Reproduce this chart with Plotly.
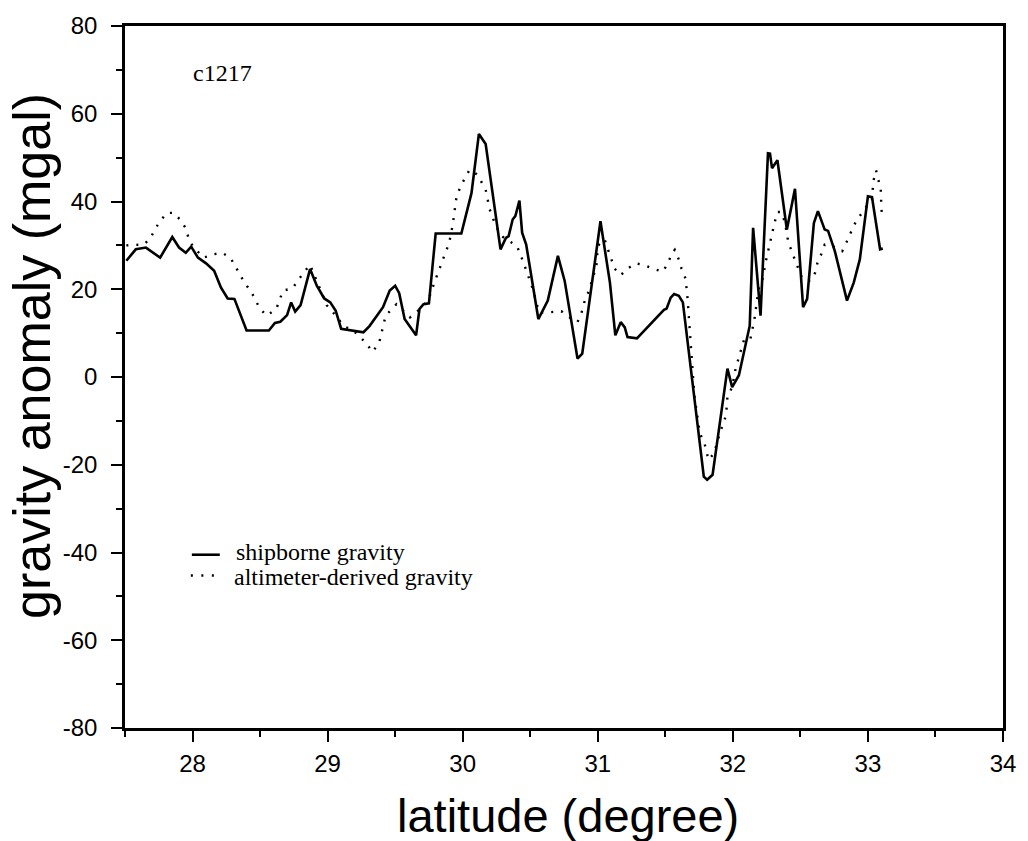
import plotly.graph_objects as go

# Shipborne gravity profile along track c1217
ship_lat = [27.51, 27.58, 27.655, 27.76, 27.85, 27.90, 27.95, 27.99, 28.04, 28.10,
            28.16, 28.21, 28.26, 28.31, 28.40, 28.565, 28.61, 28.65, 28.70, 28.73,
            28.76, 28.80, 28.87, 28.92, 28.975, 29.02, 29.06, 29.10, 29.265, 29.31,
            29.41, 29.46, 29.50, 29.53, 29.57, 29.655, 29.68, 29.71, 29.75, 29.80,
            29.99, 30.065, 30.12, 30.17, 30.28, 30.32, 30.34, 30.37, 30.39, 30.42,
            30.44, 30.47, 30.56, 30.63, 30.705, 30.755, 30.85, 30.885, 31.02, 31.09,
            31.13, 31.17, 31.20, 31.22, 31.29, 31.49, 31.51, 31.54, 31.565, 31.60,
            31.63, 31.785, 31.81, 31.85, 31.96, 31.995, 32.045, 32.125, 32.15, 32.19,
            32.205, 32.26, 32.275, 32.29, 32.33, 32.40, 32.46, 32.52, 32.55, 32.60,
            32.63, 32.68, 32.705, 32.755, 32.845, 32.895, 32.94, 33.00, 33.03, 33.09,
            33.11]
ship_val = [26.5, 29.1, 29.5, 27.2, 31.9, 29.5, 28.3, 29.7, 27.2, 25.9,
            24.2, 20.4, 17.9, 17.8, 10.6, 10.6, 12.3, 12.6, 14.1, 17.0,
            14.9, 16.4, 24.6, 20.8, 17.9, 17.0, 15.1, 11.0, 10.2, 11.6,
            15.9, 19.7, 20.8, 19.1, 13.2, 9.5, 15.5, 16.6, 16.8, 32.7,
            32.7, 41.9, 55.4, 53.1, 29.1, 31.7, 32.1, 35.9, 36.7, 40.2,
            32.9, 30.2, 13.2, 17.4, 27.6, 21.9, 4.2, 5.3, 35.5, 21.5,
            9.5, 12.5, 11.3, 9.1, 8.8, 15.3, 15.6, 18.1, 18.9, 18.5,
            17.0, -22.7, -23.4, -22.3, 1.9, -2.3, 0.4, 11.7, 34.0, 18.1,
            14.0, 51.0, 50.9, 47.6, 49.4, 33.6, 42.9, 15.9, 17.8, 35.1,
            37.8, 33.6, 33.3, 28.7, 17.4, 21.5, 26.8, 41.2, 41.0, 29.1,
            29.3]

# Altimeter-derived gravity sampled along the same track
alt_lat = [27.51, 27.64, 27.69, 27.72, 27.76, 27.81, 27.86, 27.91, 27.95, 27.97,
           28.00, 28.08, 28.16, 28.22, 28.28, 28.32, 28.385, 28.435, 28.50, 28.55,
           28.62, 28.67, 28.74, 28.82, 28.87, 28.92, 28.995, 29.06, 29.12, 29.19,
           29.29, 29.33, 29.38, 29.43, 29.51, 29.575, 29.61, 29.70, 29.75, 29.79,
           29.845, 29.90, 29.925, 29.955, 29.985, 30.05, 30.11, 30.17, 30.20, 30.245,
           30.29, 30.34, 30.40, 30.45, 30.52, 30.565, 30.62, 30.73, 30.79, 30.85,
           30.88, 30.90, 30.93, 30.95, 30.99, 31.00, 31.05, 31.075, 31.10, 31.125,
           31.17, 31.22, 31.28, 31.345, 31.41, 31.48, 31.52, 31.545, 31.57, 31.60,
           31.62, 31.65, 31.665, 31.68, 31.70, 31.715, 31.755, 31.79, 31.82, 31.86,
           31.90, 31.95, 31.96, 31.995, 32.02, 32.06, 32.085, 32.13, 32.16, 32.19,
           32.22, 32.245, 32.275, 32.29, 32.31, 32.33, 32.36, 32.385, 32.41, 32.44,
           32.46, 32.48, 32.51, 32.545, 32.575, 32.61, 32.63, 32.655, 32.68, 32.735,
           32.81, 32.84, 32.87, 32.90, 32.94, 32.975, 33.03, 33.04, 33.06, 33.08,
           33.095, 33.10, 33.11]
alt_val = [30.0, 30.2, 31.7, 33.6, 35.5, 37.4, 37.4, 35.8, 33.9, 31.7,
           29.9, 27.2, 28.0, 28.3, 27.2, 24.9, 21.5, 19.4, 15.5, 14.0,
           15.5, 19.7, 20.2, 23.7, 25.6, 21.9, 16.3, 14.0, 11.6, 10.6,
           7.6, 5.7, 7.6, 14.0, 16.6, 14.7, 13.6, 15.9, 17.9, 21.5,
           26.1, 30.6, 34.5, 41.2, 43.5, 47.2, 46.1, 42.7, 38.2, 34.4,
           32.1, 31.0, 30.0, 26.1, 20.0, 14.7, 14.7, 15.0, 13.6, 12.5,
           14.7, 17.0, 19.3, 21.2, 25.3, 29.9, 31.4, 29.1, 26.8, 24.7,
           23.2, 24.7, 25.9, 25.5, 24.7, 24.0, 25.9, 28.0, 29.0, 26.8,
           24.7, 22.4, 17.8, 11.3, 4.5, -4.2, -12.8, -15.1, -18.9, -17.4,
           -13.2, -8.7, -4.5, -2.3, 1.9, 6.0, 8.7, 8.7, 13.2, 20.0,
           22.3, 26.5, 30.8, 33.0, 35.3, 37.6, 37.6, 35.3, 30.8, 28.3,
           26.8, 24.9, 22.7, 21.9, 21.9, 23.8, 26.5, 28.0, 30.2, 29.9,
           28.7, 30.6, 32.7, 34.8, 36.7, 38.3, 40.4, 44.6, 47.1, 44.6,
           42.7, 38.2, 35.9]

x_ticks = [28, 29, 30, 31, 32, 33, 34]
x_tick_labels = ["28", "29", "30", "31", "32", "33", "34"]
y_ticks = [-80, -60, -40, -20, 0, 20, 40, 60, 80]
y_tick_labels = ["-80", "-60", "-40", "-20", "0", "20", "40", "60", "80"]

track_name = "c1217"
legend_names = ["shipborne gravity", "altimeter-derived gravity"]

SANS = "Liberation Sans, Arial, sans-serif"
SERIF = "Liberation Serif, Times New Roman, serif"
DOT = "2px,8px"

fig = go.Figure()
fig.add_trace(go.Scatter(x=alt_lat, y=alt_val, mode="lines", name=legend_names[1],
                         line=dict(color="black", width=2.4, dash=DOT)))
fig.add_trace(go.Scatter(x=ship_lat, y=ship_val, mode="lines", name=legend_names[0],
                         line=dict(color="black", width=2.6)))

axis_common = dict(
    showgrid=False, zeroline=False, showline=True, linecolor="black", linewidth=2.5,
    mirror=True, ticks="outside", ticklen=11, tickwidth=1.5, tickcolor="black",
    tickfont=dict(family=SANS, size=24, color="black"),
)
fig.update_xaxes(range=[27.5, 34], tickvals=x_ticks, ticktext=x_tick_labels,
                 ticklabelstandoff=1,
                 minor=dict(dtick=0.5, ticklen=6, tickwidth=1.5, tickcolor="black", ticks="outside"),
                 **axis_common)
fig.update_yaxes(range=[-80, 80], tickvals=y_ticks, ticktext=y_tick_labels,
                 ticklabelstandoff=9,
                 minor=dict(dtick=10, ticklen=6, tickwidth=1.5, tickcolor="black", ticks="outside"),
                 **axis_common)

# Legend drawn as sample strokes with labels inside the frame
def paper_x(px):
    return (px - 125) / 880

def paper_y(py):
    return (728 - py) / 709

fig.add_shape(type="line", xref="paper", yref="paper",
              x0=paper_x(192), x1=paper_x(220), y0=paper_y(553), y1=paper_y(553),
              line=dict(color="black", width=2.6))
fig.add_shape(type="line", xref="paper", yref="paper",
              x0=paper_x(191), x1=paper_x(222), y0=paper_y(574), y1=paper_y(574),
              line=dict(color="black", width=2.4, dash="2px,8.5px"))

annotations = [
    dict(text=track_name, x=paper_x(191), y=paper_y(66), xanchor="left", yanchor="middle",
         font=dict(family=SERIF, size=24, color="black")),
    dict(text=legend_names[0], x=paper_x(234), y=paper_y(550), xanchor="left", yanchor="middle",
         font=dict(family=SERIF, size=24, color="black")),
    dict(text=legend_names[1], x=paper_x(232), y=paper_y(575), xanchor="left", yanchor="middle",
         font=dict(family=SERIF, size=24, color="black")),
    dict(text="latitude (degree)", x=paper_x(569), y=paper_y(816), xanchor="center", yanchor="middle",
         font=dict(family=SANS, size=47, color="black")),
    dict(text="gravity anomaly (mgal)", x=paper_x(31), y=paper_y(352), xanchor="center",
         yanchor="middle", textangle=-90,
         font=dict(family=SANS, size=52, color="black")),
]
for a in annotations:
    a.update(xref="paper", yref="paper", showarrow=False)
fig.update_layout(annotations=annotations)

fig.update_layout(
    width=1028, height=841,
    margin=dict(l=125, r=23, t=19, b=113),
    paper_bgcolor="white", plot_bgcolor="white",
    showlegend=False,
)

fig.write_html("out.html")
